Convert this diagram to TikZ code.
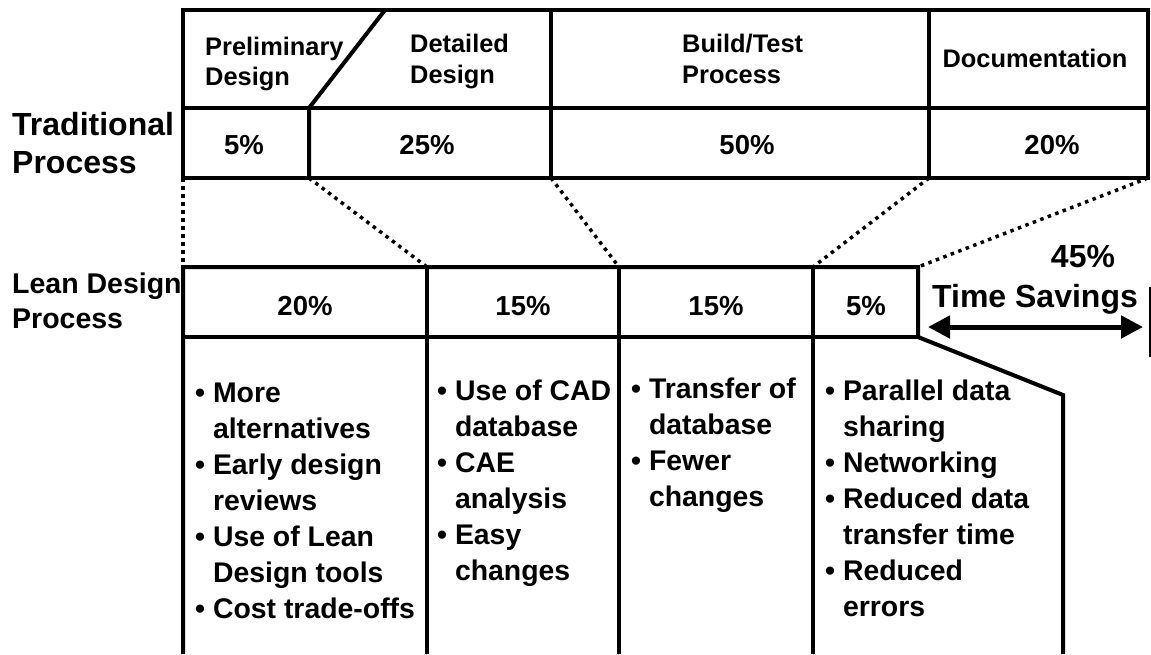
\documentclass[tikz,border=0pt]{standalone}
\usepackage{fontspec}
\setmainfont{Liberation Sans}
\usetikzlibrary{arrows.meta}
\begin{document}
\begin{tikzpicture}[x=1pt,y=-1pt,
  frame/.style={line width=4pt, line join=miter},
  dotline/.style={line width=3.5pt, dash pattern=on 3.5pt off 4.5pt},
  hdr/.style={font=\bfseries\fontsize{25.4}{30}\selectfont, inner sep=0pt, anchor=base west},
  pct/.style={font=\bfseries\fontsize{27.5}{32}\selectfont, inner sep=0pt, anchor=base},
  bul/.style={font=\bfseries\fontsize{28.4}{36}\selectfont, inner sep=0pt, anchor=base west},
  sidebig/.style={font=\bfseries\fontsize{32}{38}\selectfont, inner sep=0pt, anchor=base west},
  sidesm/.style={font=\bfseries\fontsize{28.5}{35}\selectfont, inner sep=0pt, anchor=base west},
  savings/.style={font=\bfseries\fontsize{32}{38}\selectfont, inner sep=0pt, anchor=base},
  dblarrow/.style={line width=5pt, {Triangle[length=22pt,width=22pt]}-{Triangle[length=22pt,width=22pt]}}]
\useasboundingbox (0,0) rectangle (1151,654);

% ---- coordinates: traditional table
\coordinate (tTL) at (183,10);   \coordinate (tBR) at (1148,178);
\coordinate (tML) at (183,108);  \coordinate (tMR) at (1148,108);
\coordinate (dTop) at (385,10);  \coordinate (dBot) at (309,108);
\coordinate (v1b) at (309,178);
\coordinate (v2t) at (551,10);   \coordinate (v2b) at (551,178);
\coordinate (v3t) at (929,10);   \coordinate (v3b) at (929,178);
\coordinate (tBL) at (183,178);

% ---- coordinates: lean table
\coordinate (lTL) at (183,267);  \coordinate (lBotL) at (183,654);
\coordinate (lTR) at (918,267);  \coordinate (lMR) at (918,337);
\coordinate (lML) at (183,337);
\coordinate (lKnee) at (1063,395); \coordinate (lKneeB) at (1063,654);
\coordinate (l1t) at (427,267);  \coordinate (l1b) at (427,654);
\coordinate (l2t) at (619,267);  \coordinate (l2b) at (619,654);
\coordinate (l3t) at (813,267);  \coordinate (l3b) at (813,654);

% ---- traditional table lines
\draw[frame] (tTL) rectangle (tBR);
\draw[frame] (tML) -- (tMR);
\draw[frame] (dTop) -- (dBot) -- (v1b);
\draw[frame] (v2t) -- (v2b);
\draw[frame] (v3t) -- (v3b);

% ---- lean table lines
\draw[frame] (lBotL) -- (lTL) -- (lTR) -- (lMR) -- (lKnee) -- (lKneeB);
\draw[frame] (lML) -- (lMR);
\draw[frame] (l1t) -- (l1b);
\draw[frame] (l2t) -- (l2b);
\draw[frame] (l3t) -- (l3b);

% ---- dotted projection lines
\draw[dotline] (tBL) -- (lTL);
\draw[dotline] (v1b) -- (l1t);
\draw[dotline] (v2b) -- (l2t);
\draw[dotline] (v3b) -- (l3t);
\draw[dotline] (tBR) -- (lTR);

% ---- headers
\node[hdr] (h1a) at (205,55) {Preliminary};
\node[hdr] (h1b) at (205,85) {Design};
\node[hdr] (h2a) at (410,52) {Detailed};
\node[hdr] (h2b) at (410,83) {Design};
\node[hdr] (h3a) at (682,52) {Build/Test};
\node[hdr] (h3b) at (682,83) {Process};
\node[hdr, anchor=base] (h4) at (1035,67) {Documentation};

% ---- traditional percentages
\node[pct] (p1) at (244,154) {5\%};
\node[pct] (p2) at (427,154) {25\%};
\node[pct] (p3) at (747,154) {50\%};
\node[pct] (p4) at (1052,154) {20\%};

% ---- lean percentages
\node[pct] (q1) at (305,315) {20\%};
\node[pct] (q2) at (523,315) {15\%};
\node[pct] (q3) at (716,315) {15\%};
\node[pct] (q4) at (866,315) {5\%};

% ---- side labels
\node[sidebig] (trad1) at (12,135) {Traditional};
\node[sidebig] (trad2) at (12,173) {Process};
\node[sidesm] (lean1) at (12,293) {Lean Design};
\node[sidesm] (lean2) at (12,328) {Process};

% ---- time savings
\node[savings] (sv1) at (1083,267) {45\%};
\node[savings] (sv2) at (1035,307) {Time Savings};
\coordinate (aL) at (928,327); \coordinate (aR) at (1143,327);
\draw[dblarrow] (aL) -- (aR);
\coordinate (barT) at (1150,287); \coordinate (barB) at (1150,357);
\draw[line width=2pt] (barT) -- (barB);

% ---- bullet lists
\foreach \t [count=\i] in {{• More},{\phantom{• }alternatives},{• Early design},{\phantom{• }reviews},{• Use of Lean},{\phantom{• }Design tools},{• Cost trade-offs}}
  \node[bul] (ca\i) at (195,402+36*\i-36) {\t};
\foreach \t [count=\i] in {{• Use of CAD},{\phantom{• }database},{• CAE},{\phantom{• }analysis},{• Easy},{\phantom{• }changes}}
  \node[bul] (cb\i) at (437,400+36*\i-36) {\t};
\foreach \t [count=\i] in {{• Transfer of},{\phantom{• }database},{• Fewer},{\phantom{• }changes}}
  \node[bul] (cc\i) at (631,398+36*\i-36) {\t};
\foreach \t [count=\i] in {{• Parallel data},{\phantom{• }sharing},{• Networking},{• Reduced data},{\phantom{• }transfer time},{• Reduced},{\phantom{• }errors}}
  \node[bul] (cd\i) at (825,400+36*\i-36) {\t};
\end{tikzpicture}
\end{document}
